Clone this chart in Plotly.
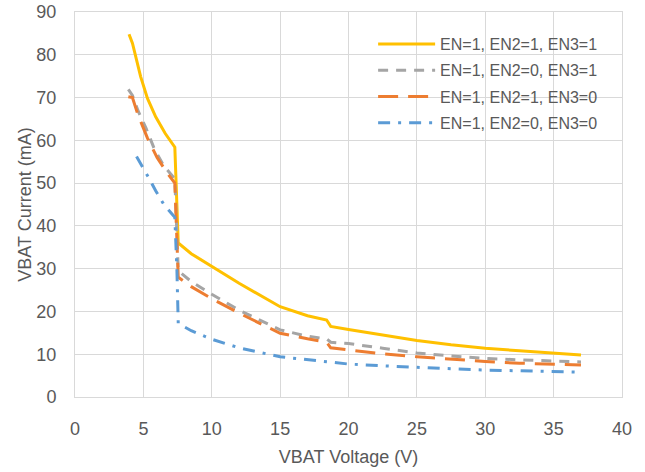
import plotly.graph_objects as go

series_names = ["EN=1, EN2=1, EN3=1", "EN=1, EN2=0, EN3=1", "EN=1, EN2=1, EN3=0", "EN=1, EN2=0, EN3=0"]

x_111 = [3.95, 4.2, 4.8, 5.3, 5.9, 6.6, 7.3, 7.45, 7.55, 8.5, 10, 12, 15, 17, 18.4, 18.7, 20, 22.5, 25, 27.5, 30, 32.5, 35, 37]
y_111 = [84.8, 82.7, 74.9, 69.8, 65.5, 61.6, 58.4, 45, 36, 33.5, 30.5, 26.6, 21.1, 19, 18, 16.5, 15.8, 14.5, 13.2, 12.2, 11.4, 10.8, 10.2, 9.8]

x_101 = [3.9, 4.2, 4.6, 5.2, 5.8, 6.5, 7.3, 7.45, 7.55, 8.5, 10, 12, 15, 17, 18.4, 18.7, 20, 22.5, 25, 27.5, 30, 32.5, 35, 37]
y_101 = [71.9, 70.5, 67, 62.8, 58, 54, 51, 40, 29.5, 27, 24, 20.3, 15.7, 14.2, 13.6, 12.8, 12.5, 11.4, 10.3, 9.6, 9.0, 8.7, 8.4, 8.2]

x_110 = [3.9, 4.2, 4.6, 5.3, 6, 6.75, 7.3, 7.45, 7.55, 8.5, 10, 12, 15, 17, 18.4, 18.7, 20, 22.5, 25, 27.5, 30, 32.5, 35, 37]
y_110 = [70.2, 70, 66, 60.5, 56, 52.3, 50, 38, 28, 25.8, 23, 19.6, 14.9, 13.6, 12.8, 11.5, 11.0, 10.1, 9.4, 8.8, 8.3, 7.9, 7.6, 7.5]

x_100 = [4.5, 5.0, 5.4, 5.9, 6.5, 7.3, 7.45, 7.55, 8.5, 10, 12, 15, 17.5, 20, 22.5, 25, 27.5, 30, 32.5, 35, 37]
y_100 = [56.2, 53.5, 51.2, 48.2, 45, 42, 30, 17.2, 15.5, 13.5, 11.5, 9.4, 8.6, 7.7, 7.3, 6.9, 6.6, 6.3, 6.1, 5.9, 5.8]

x_ticks = [0, 5, 10, 15, 20, 25, 30, 35, 40]
y_ticks = [0, 10, 20, 30, 40, 50, 60, 70, 80, 90]

colors = ["#FFC000", "#A5A5A5", "#ED7D31", "#5B9BD5"]
dashes = ["solid", "10px,8px", "20px,10px", "12px,8px,3px,8px"]
data = [(x_111, y_111), (x_101, y_101), (x_110, y_110), (x_100, y_100)]

font_family = "Liberation Sans, Arial, sans-serif"
text_color = "#595959"

fig = go.Figure()
for i, ((xs, ys), name, c, d) in enumerate(zip(data, series_names, colors, dashes)):
    fig.add_trace(go.Scatter(x=xs, y=ys, mode="lines", name=name, legendgroup=f"g{i}",
                             line=dict(color=c, width=3, dash=d)))

fig.update_layout(
    width=645, height=472,
    margin=dict(l=75, r=23, t=12, b=75),
    paper_bgcolor="white", plot_bgcolor="white",
    font=dict(family=font_family, color=text_color, size=16),
    showlegend=True,
    legend=dict(x=0.545, y=0.961, xanchor="left", yanchor="top",
                bgcolor="rgba(0,0,0,0)", font=dict(size=16, color=text_color),
                tracegroupgap=2.5, itemwidth=57),
    xaxis=dict(range=[0, 40], tickvals=x_ticks, showgrid=True, gridcolor="#D9D9D9",
               gridwidth=1, zeroline=False, showline=True, linecolor="#D9D9D9",
               mirror=True, ticks="", automargin=False, ticklabelstandoff=15,
               title=dict(text="VBAT Voltage (V)", font=dict(size=18), standoff=12),
               tickfont=dict(size=18)),
    yaxis=dict(range=[0, 90], tickvals=y_ticks, showgrid=True, gridcolor="#D9D9D9",
               gridwidth=1, zeroline=False, showline=True, linecolor="#D9D9D9",
               mirror=True, ticks="", automargin=False, ticklabelstandoff=14,
               title=dict(text="VBAT Current (mA)", font=dict(size=18), standoff=0),
               tickfont=dict(size=18)),
)

fig.write_html("out.html", config={"displayModeBar": False},
               post_script="document.body.style.margin='0';")
